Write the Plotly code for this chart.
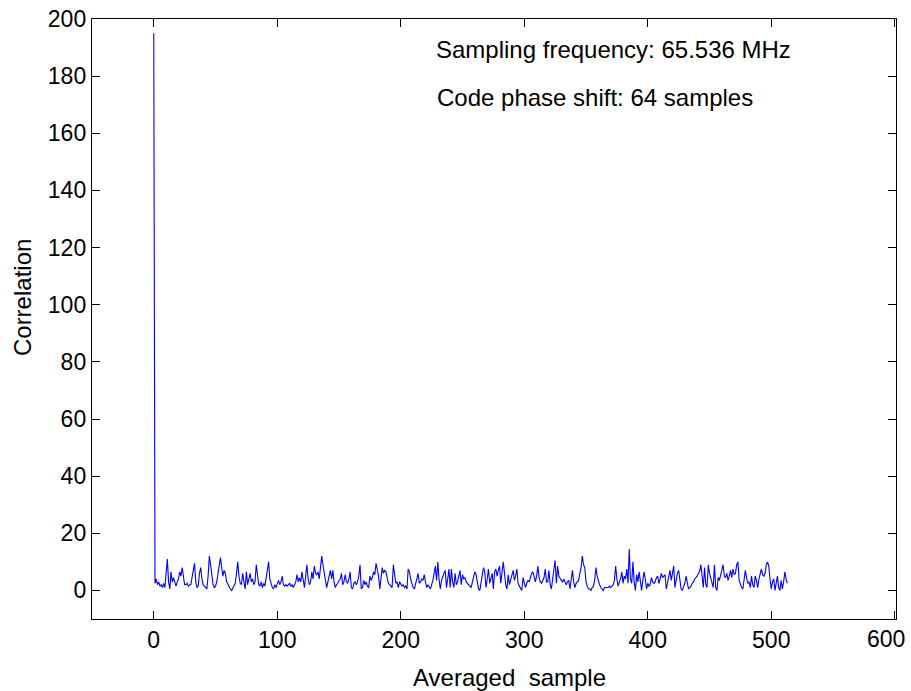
import plotly.graph_objects as go

# Correlation values per averaged sample (index 0..513)
corr_values = [
    195, 2.5, 4, 2, 3, 1.5, 2, 1, 2.5, 1,
    6, 11, 3, 0.5, 6.5, 3, 4.5, 3, 1.5, 3,
    4, 6.5, 5, 8, 5, 2, 2, 2.5, 1.5, 2,
    2, 4, 7, 9.5, 3, 1, 1.5, 6, 8, 4,
    2, 1.5, 1, 0.5, 5, 12, 9, 4, 2, 1,
    1.5, 3, 6, 9, 11.5, 8, 5, 7, 6, 3,
    2, 1, 0.5, 0, 1, 2, 2.5, 6, 10, 5,
    2.5, 2, 6, 3, 0.5, 6.5, 2, 4, 6, 3,
    4, 2, 3, 9, 5, 2, 1.5, 3, 1, 2.5,
    1.5, 4, 7, 10, 4, 2, 1, 0.5, 2, 1,
    2.5, 3.5, 2, 3, 5, 2, 1.5, 2, 1.5, 2,
    2.5, 1.5, 2, 1, 2, 3, 5.5, 3, 4.5, 3,
    6.5, 3, 1, 5, 9, 4, 2, 3, 6.5, 4,
    8.5, 6, 5.5, 6.5, 4, 8, 12, 9, 6, 4.5,
    1, 3, 5, 7, 4, 7, 3, 1, 2, 2.5,
    3.5, 4, 6, 2, 3, 5.5, 3, 2.5, 4, 6.5,
    1, 0.5, 2.5, 3, 2, 3, 5, 9, 0.5, 1,
    3.5, 2, 3, 1.5, 1, 5, 3.5, 4.5, 6.5, 5.5,
    9.5, 7, 5, 0.5, 4, 8, 6, 7, 6.5, 4,
    2.5, 2, 1.5, 1, 9, 5, 2.5, 3, 1, 3,
    2, 1.5, 2, 1, 1.5, 0.5, 7.5, 6.5, 4, 2,
    1, 0.5, 2, 4, 6, 2.5, 3, 4, 3.5, 5.5,
    3, 1, 2, 1, 0.5, 2, 3.5, 6, 8.5, 3.5,
    10, 4, 0.5, 3.5, 5, 6, 7, 1, 4, 7.5,
    1, 7.5, 3, 1, 6, 2, 3, 5, 7, 2,
    5.5, 4, 4.5, 3, 2.5, 2, 1.5, 1, 3, 5,
    6.5, 5.5, 2, 0.5, 0, 3, 6, 8, 6.5, 1,
    4, 7.5, 2.5, 4, 6, 0.5, 6.5, 7.5, 5, 7,
    8.5, 2.5, 6, 10, 6, 2, 0.5, 5.5, 2, 3.5,
    5, 7, 3.5, 5, 7.5, 2.5, 1.5, 0.5, 0, 4.5,
    2, 1, 2.5, 3.5, 3, 4.5, 6, 6.5, 4.5, 3,
    5, 8.5, 4.5, 3, 2.5, 3.5, 4.5, 7.5, 3, 3,
    7, 2, 0.5, 4, 8, 10.5, 2.5, 8.5, 5, 4,
    3.5, 3, 4, 3, 2, 3, 3.5, 0.5, 3, 7,
    3, 1, 2.5, 3, 3.5, 6, 8, 12, 9, 8,
    3, 1.5, 0.5, 0.5, 0, 1, 1.5, 3.5, 8, 5,
    3, 2, 1, 0.5, 0, 1, 1, 1, 1, 1.5,
    1, 1.5, 2, 3.5, 8.5, 4, 1.5, 3, 4, 6.5,
    2.5, 5, 4, 7.5, 2.5, 14.5, 4, 2.5, 10, 3,
    0, 5.5, 3, 6.5, 3, 0, 3.5, 6.5, 4, 0.5,
    2.5, 1.5, 2, 4.5, 3, 2.5, 3, 4.5, 5, 2.5,
    4, 6, 4.5, 5, 5.5, 0.5, 3, 5, 7, 3.5,
    6, 8.5, 1, 4, 6, 7, 3.5, 0.5, 0, 1,
    2.5, 5, 2, 0.5, 1, 1.5, 2.5, 3, 4, 4.5,
    5, 6, 6.5, 9, 4, 1, 8, 2, 1, 9,
    6, 4, 2, 1, 9, 1, 0, 4.5, 3.5, 5.5,
    7, 9, 5, 4.5, 6, 3.5, 5, 7, 4.5, 7.5,
    5.5, 6, 9, 10, 3.5, 2, 1, 0.5, 4, 7,
    4.5, 2.5, 3, 1, 5, 2, 1, 5, 3.5, 1,
    4, 6, 7.5, 5.5, 5, 6, 9, 10, 8.5, 4,
    0.5, 3, 4, 0, 2, 5, 1, 0, 3.5, 0.5,
    3, 6.5, 4, 2.5,
]
sample_index = list(range(len(corr_values)))

x_ticks = [0, 100, 200, 300, 400, 500, 600]
y_ticks = [0, 20, 40, 60, 80, 100, 120, 140, 160, 180, 200]
annotation_lines = ["Sampling frequency: 65.536 MHz", "Code phase shift: 64 samples"]
x_title = "Averaged\u00a0 sample"
y_title = "Correlation"

# the last x label sits just inside the page edge in the original, so it is drawn
# as a right-anchored label at its tick instead of a centred tick label
x_ticktext = [str(v) for v in x_ticks[:-1]] + [""]

FONT = "Arial, 'Liberation Sans', sans-serif"
FS = 23
fig = go.Figure()
fig.add_trace(go.Scatter(x=sample_index, y=corr_values, mode="lines",
                         line=dict(color="#0000ff", width=1.1), showlegend=False))

axis_common = dict(showline=True, linecolor="black", linewidth=1.4, mirror="ticks",
                   ticks="inside", ticklen=8, tickcolor="black", tickwidth=1,
                   showgrid=False, zeroline=False, automargin=False,
                   tickfont=dict(family=FONT, size=FS, color="black"))
fig.update_xaxes(range=[-50, 601], tickvals=x_ticks, ticktext=x_ticktext, **axis_common)
fig.update_yaxes(range=[-10, 200], tickvals=y_ticks, **axis_common)

fig.add_annotation(x=x_ticks[-1], y=-0.0333, xref="x", yref="paper", xanchor="right", yanchor="middle",
                   xshift=12, text=str(x_ticks[-1]), showarrow=False,
                   font=dict(family=FONT, size=FS, color="black"))

title_font = dict(family=FONT, size=FS + 1, color="black")
fig.add_annotation(x=0.5187, y=-0.0967, xref="paper", yref="paper", xanchor="center", yanchor="middle",
                   text=x_title, showarrow=False, font=title_font)
fig.add_annotation(x=-0.087, y=0.535, xref="paper", yref="paper", xanchor="center", yanchor="middle",
                   text=y_title, textangle=-90, showarrow=False, font=title_font)

fig.add_annotation(x=0.425, y=0.95, xref="paper", yref="paper", xanchor="left", yanchor="middle",
                   text=annotation_lines[0], showarrow=False, font=title_font)
fig.add_annotation(x=0.427, y=0.87, xref="paper", yref="paper", xanchor="left", yanchor="middle",
                   text=annotation_lines[1], showarrow=False, font=title_font)

fig.update_layout(width=911, height=691, plot_bgcolor="white", paper_bgcolor="white",
                  margin=dict(l=92, r=15, t=19, b=72), font=dict(family=FONT))
fig.write_html("out.html")
